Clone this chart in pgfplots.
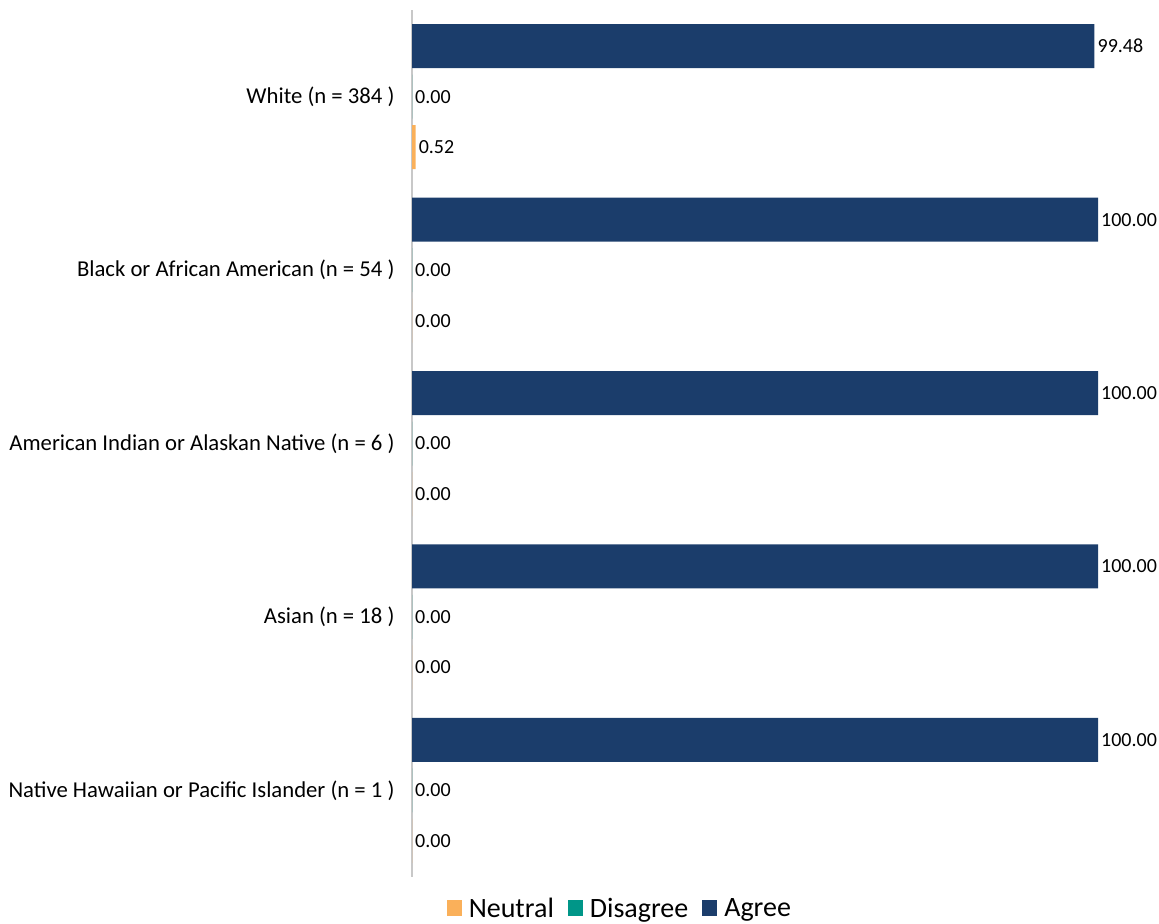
\documentclass[border=0pt]{standalone}
\usepackage{pgfplots}
\pgfplotsset{compat=1.18}
\usepackage{fontspec}
\setmainfont{Carlito}
\definecolor{agree}{RGB}{27,61,107}
\definecolor{disagree}{RGB}{0,150,136}
\definecolor{neutral}{RGB}{250,176,90}
\definecolor{axgray}{RGB}{200,200,200}
\begin{document}
\begin{tikzpicture}
\path[use as bounding box] (0,0) rectangle (1159bp,924bp);
\begin{axis}[
  at={(412bp,47bp)}, anchor=south west,
  scale only axis, width=686bp, height=867bp,
  xbar, bar width=44bp,
  xmin=0, xmax=100,
  ymin=-0.5, ymax=4.5, y dir=reverse,
  hide x axis,
  axis y line*=left,
  y axis line style={axgray, line width=1.2bp, -},
  ytick={0,1,2,3,4},
  yticklabels={White (n = 384 ),Black or African American (n = 54 ),American Indian or Alaskan Native (n = 6 ),Asian (n = 18 ),Native Hawaiian or Pacific Islander (n = 1 )},
  major tick length=0pt,
  yticklabel style={font=\fontsize{22.7bp}{27bp}\selectfont, anchor=east, xshift=-14bp},
  nodes near coords,
  nodes near coords style={font=\fontsize{20bp}{24bp}\selectfont, anchor=west, inner sep=3bp, black,
    /pgf/number format/.cd, fixed, precision=2, fixed zerofill, assume math mode=true},
  point meta=explicit,
  legend columns=3,
  legend style={draw=none, at={(0.303,-0.036)}, anchor=center, font=\fontsize{28bp}{32bp}\selectfont,
    /tikz/every odd column/.append style={column sep=5bp},
    /tikz/every even column/.append style={column sep=12bp}},
  legend image code/.code={\fill[#1] (0bp,-8bp) rectangle (15bp,8bp);},
]
\addplot[draw=none, fill=neutral, bar shift=-50.5bp] coordinates {
 (0.52,0) [0.52] (0,1) [0] (0,2) [0] (0,3) [0] (0,4) [0]};
\addplot[draw=none, fill=disagree, bar shift=0bp] coordinates {
 (0,0) [0] (0,1) [0] (0,2) [0] (0,3) [0] (0,4) [0]};
\addplot[draw=none, fill=agree, bar shift=50.5bp] coordinates {
 (99.48,0) [99.48] (100,1) [100] (100,2) [100] (100,3) [100] (100,4) [100]};
\legend{Neutral,Disagree,Agree}
\end{axis}
\end{tikzpicture}
\end{document}
